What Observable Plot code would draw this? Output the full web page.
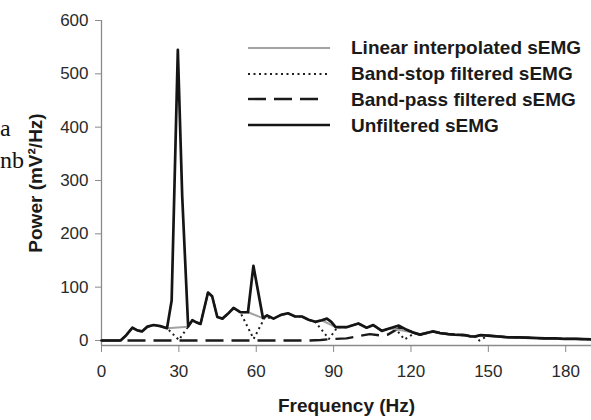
<!DOCTYPE html>
<html>
<head>
<meta charset="utf-8">
<script src="https://cdn.jsdelivr.net/npm/d3@7"></script>
<script src="https://cdn.jsdelivr.net/npm/@observablehq/plot@0.6"></script>
<style>
  body { margin: 0; background: #fff; }
  #wrap { position: relative; width: 591px; height: 420px; overflow: hidden; background: #fff;
          font-family: "Liberation Sans", Arial, sans-serif; }
  #legend { position: absolute; left: 248px; top: 35px; }
  #legend .row { display: flex; align-items: center; height: 25.8px; }
  #legend svg { margin-right: 21px; display: block; }
  #legend span { font-weight: bold; font-size: 19px; color: #1a1a1a; line-height: 1; white-space: nowrap; }
  .frag { position: absolute; font-family: "Liberation Serif", "DejaVu Serif", serif; font-size: 24px; color: #111; line-height: 1; }
</style>
</head>
<body>
<div id="wrap">
  <div id="chart"></div>
  <div id="legend"></div>
  <div class="frag" style="left:0px; top:116px;">a</div>
  <div class="frag" style="left:0px; top:148px;">nb</div>
</div>
<script>
// ---- Data ----
const xTicks = [0, 30, 60, 90, 120, 150, 180];
const yTicks = [0, 100, 200, 300, 400, 500, 600];
const seriesNames = ["Linear interpolated sEMG", "Band-stop filtered sEMG", "Band-pass filtered sEMG", "Unfiltered sEMG"];

// Unfiltered sEMG
const unfFreq = [0, 7.4, 9.6, 12, 13.9, 15.7, 17.8, 20.2, 22.8, 25.4, 27.2, 29.6, 31.3, 33.6, 35.2, 36.8, 38.4, 41.3, 42.9, 44.9,
  46.9, 49, 51.2, 53.8, 56.8, 58.9, 62.6, 64.2, 66.7, 69.6, 72.3, 75.1, 77.7, 80.3, 82.9, 85.4, 87.4, 89.1, 90.8, 95,
  99.6, 102.8, 105.4, 108.7, 111.9, 115.3, 118.4, 120.8, 123.5, 126, 128.6, 131.2, 134.5, 137, 140.9, 143, 144.8, 147, 149.9, 153,
  157.7, 162, 166.7, 172, 176, 179.6, 184, 190];
const unfPower = [0, 0, 10, 24, 19, 17, 26, 29, 27, 23, 75, 545, 270, 26, 38, 34, 31, 90, 83, 44,
  41, 50, 61, 53, 53, 140, 42, 47, 41, 48, 51, 45, 45, 39, 35, 38, 41, 35, 25, 25,
  32, 24, 29, 18, 23, 28, 20, 15, 11, 14, 17, 14, 12, 11, 10, 8, 7.5, 10, 9, 8,
  6, 6, 5, 4, 4, 3, 3, 2];

// Linear interpolated sEMG (peaks bridged)
const linFreq = [0, 7.4, 9.6, 12, 13.9, 15.7, 17.8, 20.2, 22.8, 25.4, 33.6, 35.2, 36.8, 38.4, 41.3, 42.9, 44.9,
  46.9, 49, 51.2, 53.8, 56.8, 62.6, 64.2, 66.7, 69.6, 72.3, 75.1, 77.7, 80.3, 82.9, 85.4, 90.8, 95,
  99.6, 102.8, 105.4, 108.7, 111.9, 120.8, 123.5, 126, 128.6, 131.2, 134.5, 137, 140.9, 143, 144.8, 147, 149.9, 153,
  157.7, 162, 166.7, 172, 176, 179.6, 184, 190];
const linPower = [0, 0, 10, 24, 19, 17, 26, 29, 27, 23, 26, 38, 34, 31, 90, 83, 44,
  41, 50, 61, 53, 53, 42, 47, 41, 48, 51, 45, 45, 39, 35, 38, 25, 25,
  32, 24, 29, 18, 23, 15, 11, 14, 17, 14, 12, 11, 10, 8, 7.5, 10, 9, 8,
  6, 6, 5, 4, 4, 3, 3, 2];

// Band-stop filtered sEMG (notches at harmonics)
const bsFreq = [0, 7.4, 9.6, 12, 13.9, 15.7, 17.8, 20.2, 22.8, 25.4, 30, 33.6, 35.2, 36.8, 38.4, 41.3, 42.9, 44.9,
  46.9, 49, 51.2, 53.8, 59, 63.4, 66.7, 69.6, 72.3, 75.1, 77.7, 80.3, 82.9, 88.2, 91.5, 95,
  99.6, 102.8, 105.4, 108.7, 111.9, 113.5, 117.5, 121.5, 123.5, 126, 128.6, 131.2, 134.5, 137, 140.9, 143, 144.8, 146.5, 149.9, 153,
  157.7, 162, 166.7, 172, 176, 179.6, 184, 190];
const bsPower = [0, 0, 10, 24, 19, 17, 26, 29, 27, 23, 1, 26, 38, 34, 31, 90, 83, 44,
  41, 50, 61, 53, 3, 44, 41, 48, 51, 45, 45, 39, 35, 3, 25, 25,
  32, 24, 29, 18, 23, 25, 2, 14, 11, 14, 17, 14, 12, 11, 10, 8, 7.5, 0, 9, 8,
  6, 6, 5, 4, 4, 3, 3, 2];

// Band-pass filtered sEMG
const bpFreq = [0, 20, 40, 60, 80, 85, 90, 95, 99, 104, 108, 111, 113.5, 115.5, 118.4, 120.8, 123.5, 126, 128.6, 131.2,
  134.5, 137, 140.9, 143, 144.8, 147, 149.9, 153, 157.7, 162, 166.7, 172, 176, 179.6, 184, 190];
const bpPower = [0, 0, 0, 0, 0, 1, 3, 4, 7.5, 12, 9.5, 11, 18, 24, 20, 15, 11, 14, 17, 14,
  12, 11, 10, 8, 7.5, 10, 9, 8, 6, 6, 5, 4, 4, 3, 3, 2];

const rows = (f, p) => f.map((x, i) => ({f: x, p: p[i]}));

const styles = [
  {stroke: "#a3a3a3", strokeWidth: 2, dash: null},
  {stroke: "#1e1e1e", strokeWidth: 2, dash: "2,3.5"},
  {stroke: "#1a1a1a", strokeWidth: 2.4, dash: "18,8"},
  {stroke: "#151515", strokeWidth: 2.7, dash: null}
];

const axisGray = "#8a8a8a";
const textCol = "#2a2a2a";
const font = '"Liberation Sans", Arial, sans-serif';

const chart = Plot.plot({
  width: 591,
  height: 420,
  marginLeft: 101,
  marginRight: 0,
  marginTop: 20,
  marginBottom: 75,
  style: {fontFamily: font, background: "transparent", overflow: "visible"},
  x: {domain: [0, 190]},
  y: {domain: [0, 600], insetBottom: 5},
  marks: [
    Plot.ruleX([0], {stroke: axisGray, strokeWidth: 1.3}),
    Plot.ruleY([0], {dy: 5, stroke: axisGray, strokeWidth: 1.3}),
    Plot.axisY(yTicks, {tickSize: 6, tickPadding: 7, stroke: axisGray, fill: textCol, fontSize: 17, label: null}),
    Plot.axisX(xTicks, {tickSize: 7, tickPadding: 12, stroke: axisGray, fill: textCol, fontSize: 17, label: null}),
    Plot.line(rows(bpFreq, bpPower), {x: "f", y: "p", stroke: styles[2].stroke, strokeWidth: styles[2].strokeWidth, strokeDasharray: styles[2].dash, strokeLinecap: "butt"}),
    Plot.line(rows(bsFreq, bsPower), {x: "f", y: "p", stroke: styles[1].stroke, strokeWidth: styles[1].strokeWidth, strokeDasharray: styles[1].dash, strokeLinecap: "butt"}),
    Plot.line(rows(linFreq, linPower), {x: "f", y: "p", stroke: styles[0].stroke, strokeWidth: styles[0].strokeWidth}),
    Plot.line(rows(unfFreq, unfPower), {x: "f", y: "p", stroke: styles[3].stroke, strokeWidth: styles[3].strokeWidth}),
    Plot.text(["Frequency (Hz)"], {text: d => d, frameAnchor: "bottom", dy: 60, textAnchor: "middle", lineAnchor: "middle", fontSize: 19, fontWeight: "bold", fill: "#1a1a1a"}),
    Plot.text(["Power (mV²/Hz)"], {text: d => d, frameAnchor: "left", dx: -66, rotate: -90, textAnchor: "middle", lineAnchor: "middle", fontSize: 19, fontWeight: "bold", fill: "#1a1a1a"})
  ]
});
document.getElementById("chart").appendChild(chart);

// Legend
const legend = document.getElementById("legend");
seriesNames.forEach((name, i) => {
  const s = styles[i];
  const row = document.createElement("div");
  row.className = "row";
  const len = i === 2 ? 74 : 82;
  row.innerHTML = `<svg width="82" height="10"><line x1="0" x2="${len}" y1="5" y2="5" stroke="${s.stroke}" stroke-width="${s.strokeWidth}" ${s.dash ? `stroke-dasharray="${s.dash}"` : ""}/></svg><span></span>`;
  row.querySelector("span").textContent = name;
  legend.appendChild(row);
});
</script>
</body>
</html>
